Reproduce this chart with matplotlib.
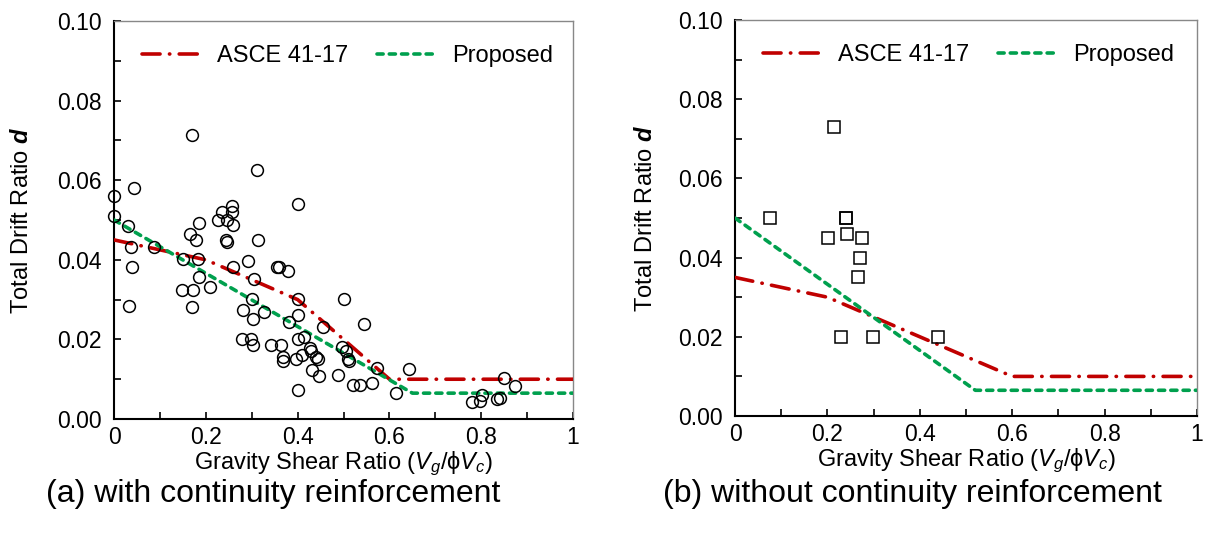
import matplotlib
matplotlib.use("Agg")
import matplotlib.pyplot as plt
from matplotlib.ticker import MultipleLocator, FormatStrFormatter

plt.rcParams['font.family'] = ['Liberation Sans', 'DejaVu Sans']
plt.rcParams['mathtext.fontset'] = 'custom'
plt.rcParams['mathtext.rm'] = 'Liberation Sans'
plt.rcParams['mathtext.it'] = 'Liberation Sans:italic'
plt.rcParams['mathtext.bf'] = 'Liberation Sans:bold'
plt.rcParams['mathtext.bfit'] = 'Liberation Sans:bold:italic'

# ---- (a) with continuity reinforcement: test data ----
with_x = [0.000, 0.000, 0.030, 0.044, 0.036, 0.039, 0.033, 0.086, 0.169, 0.312,
          0.400, 0.184, 0.166, 0.178, 0.151, 0.182, 0.185, 0.149, 0.173, 0.170,
          0.210, 0.227, 0.235, 0.246, 0.258, 0.258, 0.259, 0.244, 0.247, 0.260,
          0.291, 0.314, 0.305, 0.300, 0.302, 0.280, 0.326, 0.278, 0.299, 0.303,
          0.341, 0.363, 0.367, 0.368, 0.354, 0.359, 0.379, 0.400, 0.400, 0.381,
          0.400, 0.413, 0.397, 0.409, 0.427, 0.430, 0.441, 0.444, 0.432, 0.446,
          0.400, 0.455, 0.487, 0.501, 0.496, 0.506, 0.509, 0.511, 0.545, 0.521,
          0.536, 0.561, 0.572, 0.615, 0.642, 0.780, 0.797, 0.802, 0.835, 0.840,
          0.850, 0.874]
with_d = [0.0561, 0.0511, 0.0484, 0.0581, 0.0431, 0.0381, 0.0285, 0.0431, 0.0713, 0.0626,
          0.0540, 0.0493, 0.0466, 0.0451, 0.0402, 0.0401, 0.0357, 0.0325, 0.0325, 0.0282,
          0.0332, 0.0501, 0.0520, 0.0500, 0.0534, 0.0521, 0.0488, 0.0449, 0.0446, 0.0381,
          0.0396, 0.0451, 0.0352, 0.0301, 0.0251, 0.0273, 0.0270, 0.0201, 0.0201, 0.0186,
          0.0186, 0.0185, 0.0155, 0.0146, 0.0382, 0.0381, 0.0371, 0.0301, 0.0261, 0.0245,
          0.0200, 0.0205, 0.0150, 0.0161, 0.0179, 0.0170, 0.0156, 0.0150, 0.0123, 0.0108,
          0.0074, 0.0230, 0.0111, 0.0302, 0.0182, 0.0171, 0.0150, 0.0146, 0.0238, 0.0086,
          0.0086, 0.0090, 0.0128, 0.0065, 0.0126, 0.0042, 0.0046, 0.0060, 0.0050, 0.0052,
          0.0104, 0.0083]

# ---- (b) without continuity reinforcement: test data ----
without_x = [0.076, 0.215, 0.202, 0.241, 0.241, 0.242, 0.275, 0.271, 0.265, 0.229, 0.298, 0.439]
without_d = [0.050, 0.073, 0.045, 0.050, 0.050, 0.046, 0.045, 0.040, 0.035, 0.020, 0.020, 0.020]

# ---- models ----
asce_with_x = [0.0, 0.2, 0.4, 0.6, 1.0]
asce_with_d = [0.045, 0.040, 0.030, 0.010, 0.010]
prop_with_x = [0.0, 0.65, 1.0]
prop_with_d = [0.050, 0.0065, 0.0065]

asce_without_x = [0.0, 0.2, 0.6, 1.0]
asce_without_d = [0.035, 0.030, 0.010, 0.010]
prop_without_x = [0.0, 0.52, 1.0]
prop_without_d = [0.050, 0.0065, 0.0065]

RED = '#C00000'
GREEN = '#00A04E'


def style_axes(ax):
    ax.set_xlim(0, 1)
    ax.set_ylim(0, 0.10)
    ax.xaxis.set_major_locator(MultipleLocator(0.2))
    ax.xaxis.set_minor_locator(MultipleLocator(0.1))
    ax.yaxis.set_major_locator(MultipleLocator(0.02))
    ax.yaxis.set_minor_locator(MultipleLocator(0.01))
    ax.yaxis.set_major_formatter(FormatStrFormatter('%.2f'))
    ax.xaxis.set_major_formatter(plt.FuncFormatter(lambda v, p: f'{v:g}'))
    ax.tick_params(which='both', direction='in', length=5, width=1.2,
                   top=False, right=False, labelsize=16.5)
    ax.tick_params(axis='y', pad=9)
    ax.tick_params(axis='x', pad=5)
    for s in ['left', 'bottom']:
        ax.spines[s].set_linewidth(1.5)
        ax.spines[s].set_color('black')
    for s in ['top', 'right']:
        ax.spines[s].set_linewidth(1.0)
        ax.spines[s].set_color('#888888')
    ax.set_xlabel(r'Gravity Shear Ratio ($V_g$/ϕ$V_c$)', fontsize=17)
    ax.set_ylabel(r'Total Drift Ratio $\mathbfit{d}$', fontsize=17)
    ax.xaxis.set_label_coords(0.5, -0.078)


def draw_models(ax, ax_x, ax_d, px, pd_):
    l1, = ax.plot(ax_x, ax_d, color=RED, lw=2.6, dash_capstyle='round', zorder=3)
    l1.set_dashes((5, 2.6, 0.1, 2.6))
    l2, = ax.plot(px, pd_, color=GREEN, lw=2.6, dash_capstyle='round', zorder=3)
    l2.set_dashes((1.7, 1.7))
    ax.legend([l1, l2], ['ASCE 41-17', 'Proposed'], ncol=2, frameon=False,
              loc='center left', bbox_to_anchor=(0.06, 0.912), borderaxespad=0,
              borderpad=0, fontsize=17, handlelength=2.5, handletextpad=0.7,
              columnspacing=1.2)


fig = plt.figure(figsize=(12.07, 5.37), dpi=100)
ax1 = fig.add_axes([0.0945, 0.2197, 0.3803, 0.7412])
ax2 = fig.add_axes([0.6090, 0.2253, 0.3828, 0.7374])

style_axes(ax1)
draw_models(ax1, asce_with_x, asce_with_d, prop_with_x, prop_with_d)
ax1.plot(with_x, with_d, 'o', mfc='none', mec='black', mew=1.1, ms=8.5, zorder=4,
         clip_on=False)
ax1.yaxis.set_label_coords(-0.176, 0.5)

style_axes(ax2)
draw_models(ax2, asce_without_x, asce_without_d, prop_without_x, prop_without_d)
ax2.plot(without_x, without_d, 's', mfc='none', mec='black', mew=1.1, ms=8, zorder=4)
ax2.yaxis.set_label_coords(-0.169, 0.5)

fig.text(273 / 1207, 1 - 494 / 537, '(a) with continuity reinforcement',
         ha='center', va='center', fontsize=23)
fig.text(912 / 1207, 1 - 494 / 537, '(b) without continuity reinforcement',
         ha='center', va='center', fontsize=23)

fig.savefig('out.png', dpi=100)
